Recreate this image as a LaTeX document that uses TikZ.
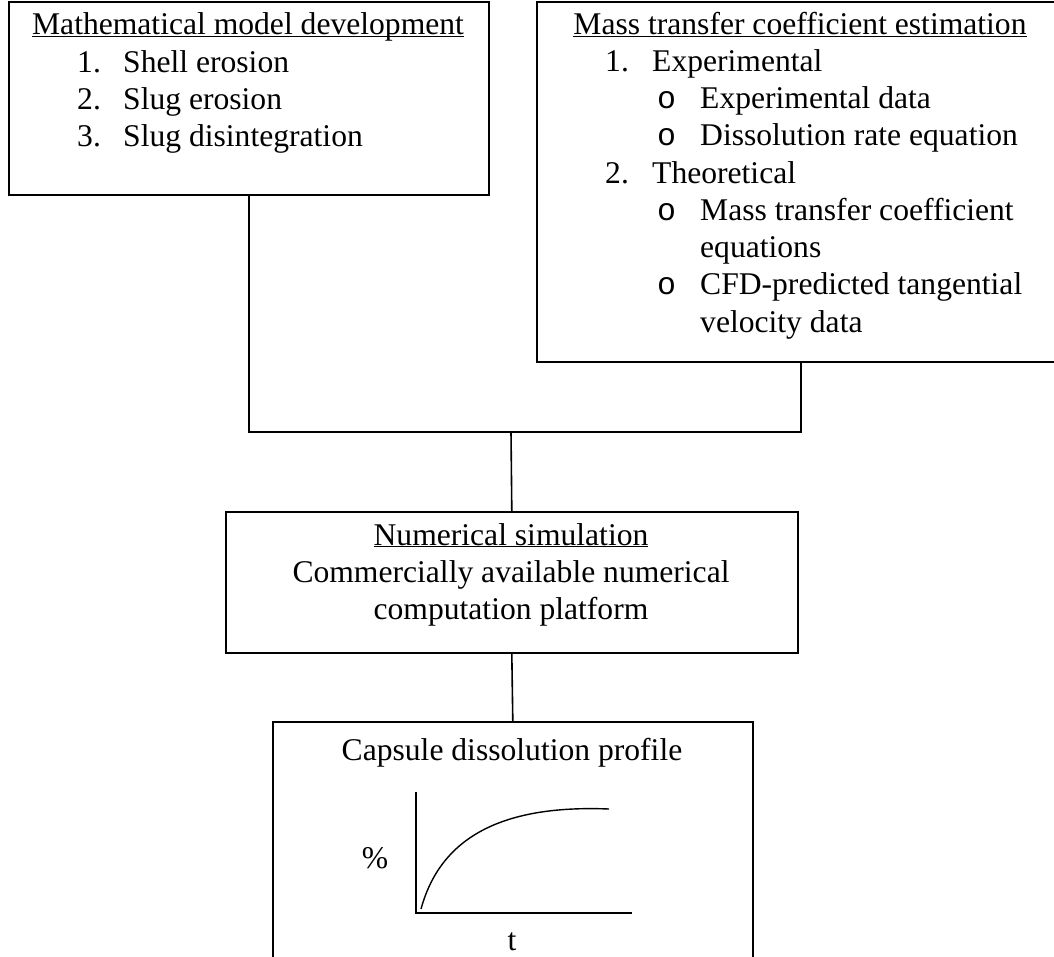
\documentclass[tikz,border=0pt]{standalone}
\usepackage{fontspec}
\setmainfont{Liberation Serif}
\newfontfamily\bulletfont{Liberation Mono}

\begin{document}
\begin{tikzpicture}[x=1pt,y=-1pt,
  box/.style={draw,line width=1.6pt,inner sep=0pt,anchor=north west},
  txt/.style={inner sep=0pt,anchor=base west,font=\fontsize{31.6}{37}\selectfont},
  ctxt/.style={txt,anchor=base},
  link/.style={line width=1.6pt}]
\useasboundingbox (0,0) rectangle (1054,957);
\clip (0,0) rectangle (1054,957);

% boxes
\node[box,minimum width=480pt,minimum height=193pt] (model) at (8,1) {};
\node[box,minimum width=528pt,minimum height=360pt] (masstr) at (536,1) {};
\node[box,minimum width=572pt,minimum height=141pt] (numsim) at (225,511) {};
\node[box,minimum width=480pt,minimum height=270pt] (profile) at (272,721) {};

% connectors
\coordinate (join) at (511,432);
\draw[link] (model.south) |- (join) -| (masstr.south);
\draw[link] (join) -- (numsim.north);
\draw[link] (numsim.south) -- (profile.north);

% model development
\node[ctxt] (mtitle) at (248,35) {\underline{\smash{Mathematical model development}}};
\node[txt] (m1n) at (77,73) {1.};
\node[txt] (m1) at (123,73) {Shell erosion};
\node[txt] (m2n) at (77,110) {2.};
\node[txt] (m2) at (123,110) {Slug erosion};
\node[txt] (m3n) at (77,147) {3.};
\node[txt] (m3) at (123,147) {Slug disintegration};

% mass transfer coefficient
\node[ctxt] (ktitle) at (800,35) {\underline{\smash{Mass transfer coefficient estimation}}};
\node[txt] (k1n) at (605,72) {1.};
\node[txt] (k1) at (652,72) {Experimental};
\node[txt] (k1an) at (657,109) {\bulletfont o};
\node[txt] (k1a) at (700,109) {Experimental data};
\node[txt] (k1bn) at (657,146) {\bulletfont o};
\node[txt] (k1b) at (700,146) {Dissolution rate equation};
\node[txt] (k2n) at (605,184) {2.};
\node[txt] (k2) at (652,184) {Theoretical};
\node[txt] (k2an) at (657,221) {\bulletfont o};
\node[txt] (k2a) at (700,221) {Mass transfer coefficient};
\node[txt] (k2a2) at (700,258) {equations};
\node[txt] (k2bn) at (657,295) {\bulletfont o};
\node[txt] (k2b) at (700,295) {CFD-predicted tangential};
\node[txt] (k2b2) at (700,332) {velocity data};

% numerical simulation
\node[ctxt] (ntitle) at (511,545) {\underline{\smash{Numerical simulation}}};
\node[ctxt] (n1) at (511,582) {Commercially available numerical};
\node[ctxt] (n2) at (511,619) {computation platform};

% dissolution profile
\node[ctxt] (ptitle) at (512,760) {Capsule dissolution profile};
\coordinate (orig) at (416,913);
\coordinate (ytop) at (416,792);
\coordinate (xend) at (632,913);
\draw[link] (ytop) |- (xend);
\draw[line width=1.4pt] (421,909) .. controls (442,832) and (510,805) .. (609,809);
\node[ctxt] (pct) at (375,868) {\%};
\node[ctxt] (tlab) at (512,950) {t};
\end{tikzpicture}
\end{document}
